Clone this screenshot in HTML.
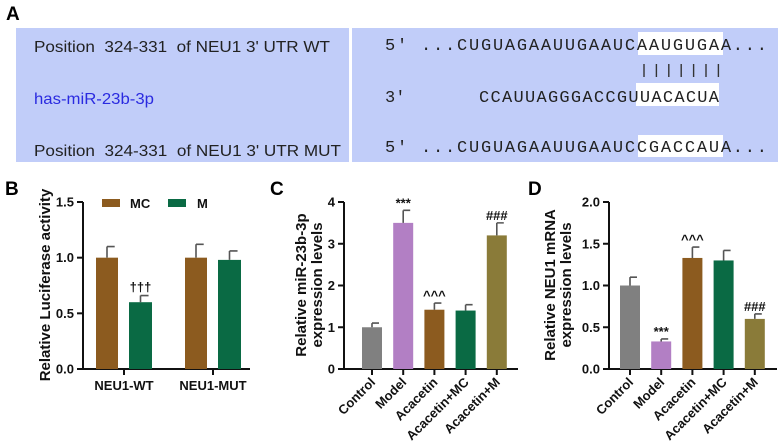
<!DOCTYPE html>
<html><head><meta charset="utf-8"><style>
body{margin:0;background:#fff;}
svg{display:block;font-family:"Liberation Sans",Arial,sans-serif;}
text{white-space:pre;}
.seq{font-family:"Liberation Mono",monospace;font-size:17px;fill:#222;white-space:pre;}
.lab{font-size:16px;fill:#222;white-space:pre;}
.tick{font-size:13px;font-weight:bold;fill:#111;}
.ylab{font-size:15px;font-weight:bold;fill:#111;}
.pan{font-size:19px;font-weight:bold;fill:#000;}
.sig{font-size:13px;font-weight:bold;fill:#111;}
</style></head><body>
<svg id="fig" width="778" height="445" viewBox="0 0 778 445" xml:space="preserve">
<text class="pan" x="6" y="20">A</text>
<rect x="16" y="28" width="762" height="134" fill="#c1cdf9"/>
<rect x="349" y="28" width="3" height="134" fill="#fff"/>
<text class="lab" x="34" y="52" textLength="296" lengthAdjust="spacingAndGlyphs">Position  324-331  of NEU1 3' UTR WT</text>
<text class="lab" x="34" y="104" style="fill:#2a2ae0" textLength="120" lengthAdjust="spacingAndGlyphs">has-miR-23b-3p</text>
<text class="lab" x="34" y="156" textLength="307" lengthAdjust="spacingAndGlyphs">Position  324-331  of NEU1 3' UTR MUT</text>
<rect x="638" y="32" width="85" height="23" fill="#fff"/>
<rect x="636" y="83" width="83" height="23" fill="#fff"/>
<rect x="638" y="135" width="85" height="22" fill="#fff"/>
<text class="seq" x="385" y="50" textLength="382" lengthAdjust="spacing">5' ...CUGUAGAAUUGAAUCAAUGUGAA...</text>
<text class="seq" x="385" y="102">3'</text>
<text class="seq" x="479" y="102" textLength="240" lengthAdjust="spacing">CCAUUAGGGACCGUUACACUA</text>
<text class="seq" x="385" y="152" textLength="382" lengthAdjust="spacing">5' ...CUGUAGAAUUGAAUCCGACCAUA...</text>
<g id="pairs"></g>
</svg>
<script>
const svgNS="http://www.w3.org/2000/svg";
const fig=document.getElementById('fig');
function mk(tag,attrs,parent){const e=document.createElementNS(svgNS,tag);for(const k in attrs)e.setAttribute(k,attrs[k]);(parent||fig).appendChild(e);return e;}
for(let i=0;i<7;i++){const l=mk('line',{x1:644+i*12.4,x2:644+i*12.4,y1:64,y2:77,stroke:'#333','stroke-width':1.4},document.getElementById('pairs'));

}

// Panel B data
const bCategories=["NEU1-WT","NEU1-MUT"];
const bSeries=["MC","M"];
const bMC=[1.0,1.0];
const bMCerr=[0.10,0.12];
const bM=[0.60,0.98];
const bMerr=[0.06,0.08];
const bTicks=[0,0.5,1.0,1.5];
const bTickLabels=["0.0","0.5","1.0","1.5"];
// Panel C data
const cCategories=["Control","Model","Acacetin","Acacetin+MC","Acacetin+M"];
const cValues=[1.0,3.5,1.42,1.4,3.2];
const cErr=[0.1,0.3,0.16,0.14,0.3];
const cSig=["","***","^^^","","###"];
const cTicks=[0,1,2,3,4];
const cTickLabels=["0","1","2","3","4"];
// Panel D data
const dCategories=["Control","Model","Acacetin","Acacetin+MC","Acacetin+M"];
const dValues=[1.0,0.33,1.33,1.3,0.6];
const dErr=[0.1,0.03,0.13,0.12,0.06];
const dSig=["","***","^^^","","###"];
const dTicks=[0,0.5,1.0,1.5,2.0];
const dTickLabels=["0.0","0.5","1.0","1.5","2.0"];
const barColors=["#808080","#b27fc4","#8c5b1f","#0a6a44","#8a7b39"];
const seriesColors=["#8c5b1f","#0a6a44"];

function axis(x0,x1,y0,y1,max,ticks,labels,name){
  const ys=v=>y0-(v/max)*(y0-y1);
  const g=mk('g',{});
  
  
  mk('line',{x1:x0,x2:x0,y1:y1,y2:y0+1,stroke:'#111','stroke-width':2},g);
  mk('line',{x1:x0-1,x2:x1,y1:y0,y2:y0,stroke:'#111','stroke-width':2},g);
  ticks.forEach((t,i)=>{const y=ys(t);
    mk('line',{x1:x0-6,x2:x0,y1:y,y2:y,stroke:'#111','stroke-width':2},g);
    const tx=mk('text',{x:x0-9,y:y+4.5,'text-anchor':'end',class:'tick'},g);tx.textContent=labels[i];
    
    });
  return ys;
}
function bar(x,w,v,e,ys,col,name){
  const y=ys(v);
  const r=mk('rect',{x:x,y:y,width:w,height:ys(0)-y,fill:col});
  
  
  const ye=ys(v+e),cx=x+w/2;
  const eb=mk('path',{d:`M${cx},${y}V${ye}M${cx},${ye}H${cx+w*0.35}`,stroke:'#555','stroke-width':1.6,fill:'none'});
  
  
  return ye;
}
function ylabel(x,cy,lines,name){
  lines.forEach((s,i)=>{const t=mk('text',{class:'ylab',transform:`translate(${x+i*16},${cy}) rotate(-90)`,'text-anchor':'middle'});t.textContent=s;
  
  });
}
function panelLetter(x,s){const t=mk('text',{class:'pan',x:x,y:195});t.textContent=s;

}

// Panel B
panelLetter(5,"B");
{const ys=axis(83,250,369,202,1.5,bTicks,bTickLabels,'panel-b');
 ylabel(50,285,["Relative Luciferase activity"],'panel-b-y-axis-title');
 const starts=[96,185];
 bCategories.forEach((c,i)=>{
  bar(starts[i],22,bMC[i],bMCerr[i],ys,seriesColors[0],'bar-mc-'+c.toLowerCase());
  const ye=bar(starts[i]+33,23,bM[i],bMerr[i],ys,seriesColors[1],'bar-m-'+c.toLowerCase());
  if(i===0){const s=mk('text',{x:starts[i]+44.5,y:ye-4,'text-anchor':'middle',class:'sig'});s.textContent="†††";
   
   }
  const cx=starts[i]+28;
  mk('line',{x1:cx,x2:cx,y1:369,y2:375,stroke:'#111','stroke-width':2});
  const t=mk('text',{x:cx,y:390,'text-anchor':'middle',class:'tick'});t.textContent=c;
  
  
 });
 [[102,130],[168,197]].forEach((p,i)=>{
  const sw=mk('rect',{x:p[0],y:199,width:18,height:8,fill:seriesColors[i]});
  
  
  const t=mk('text',{x:p[1],y:208,class:'tick'});t.textContent=bSeries[i];
  
  
 });
}
function groupPanel(letter,lx,x0,x1,max,ticks,labels,cats,vals,errs,sigs,firstX,ylabX,ylines,name){
  panelLetter(lx,letter);
  const ys=axis(x0,x1,369,202,max,ticks,labels,name);
  ylabel(ylabX,285,ylines,name+'-y-axis-title');
  cats.forEach((c,i)=>{
    const x=firstX+i*31.2;
    const ye=bar(x,20,vals[i],errs[i],ys,barColors[i],name+'-bar-'+c.toLowerCase());
    if(sigs[i]){const s=mk('text',{x:x+10,y:ye-3,'text-anchor':'middle',class:'sig'});s.textContent=sigs[i];
      
      }
    const cx=x+10;
    mk('line',{x1:cx,x2:cx,y1:369,y2:375,stroke:'#111','stroke-width':2});
    const t=mk('text',{'text-anchor':'end',class:'tick',transform:`translate(${cx+4},${383}) rotate(-45)`});t.textContent=c;
    
    
  });
}
groupPanel("C",270,344,518,4,cTicks,cTickLabels,cCategories,cValues,cErr,cSig,362,306,["Relative miR-23b-3p","expression levels"],'panel-c');
groupPanel("D",528,609,777,2,dTicks,dTickLabels,dCategories,dValues,dErr,dSig,620,555,["Relative NEU1 mRNA","expression levels"],'panel-d');
</script>
</body></html>
